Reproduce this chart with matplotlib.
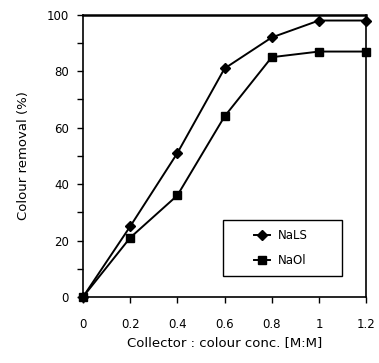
import matplotlib
matplotlib.use('Agg')
import matplotlib.pyplot as plt
from matplotlib.patches import Rectangle
from matplotlib.ticker import MultipleLocator

# data
ratio = [0, 0.2, 0.4, 0.6, 0.8, 1.0, 1.2]
nals = [0, 25, 51, 81, 92, 98, 98]
naol = [0, 21, 36, 64, 85, 87, 87]
xtick_labels = ['0', '0.2', '0.4', '0.6', '0.8', '1', '1.2']

plt.rcParams['font.family'] = 'DejaVu Sans'
fig = plt.figure(figsize=(3.79, 3.63), dpi=100)
ax = fig.add_axes([0.219, 0.182, 0.747, 0.777])

ax.plot(ratio, nals, color='black', lw=1.4, marker='D', ms=5.5, label='NaLS', clip_on=False, zorder=3)
ax.plot(ratio, naol, color='black', lw=1.4, marker='s', ms=6, label='NaOl', clip_on=False, zorder=3)

ax.set_xlim(0, 1.2)
ax.set_ylim(0, 100)
ax.set_xticks(ratio)
ax.set_xticklabels(xtick_labels)
ax.yaxis.set_major_locator(MultipleLocator(20))
ax.yaxis.set_minor_locator(MultipleLocator(10))
ax.tick_params(axis='both', which='both', direction='out', length=4, width=1, labelsize=8.5, pad=6)
ax.tick_params(axis='x', pad=11)

for s in ax.spines.values():
    s.set_linewidth(1.2)
ax.spines['top'].set_linewidth(1.8)

ax.set_xlabel('Collector : colour conc. [M:M]', fontsize=9.5, labelpad=4)
ax.set_ylabel('Colour removal (%)', fontsize=9.5, labelpad=12)

# legend frame drawn separately, entries sit centred inside it
ax.add_patch(Rectangle((0.495, 0.074), 0.42, 0.20, transform=ax.transAxes,
                       fill=True, facecolor='white', edgecolor='black', lw=1.0, zorder=4))
leg = ax.legend(loc='center', bbox_to_anchor=(0.70, 0.174), frameon=False,
                fontsize=8.5, handlelength=1.3, handletextpad=0.7, labelspacing=1.0)
leg.set_zorder(5)

fig.savefig('out.png', dpi=100)
